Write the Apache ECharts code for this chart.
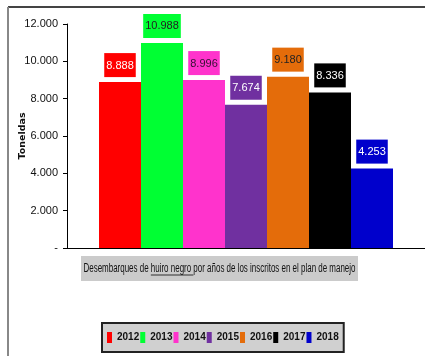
<!DOCTYPE html>
<html>
<head>
<meta charset="utf-8">
<script src="https://cdn.jsdelivr.net/npm/echarts@6/dist/echarts.min.js"></script>
<style>
html,body{margin:0;padding:0;background:#fff;}
#chart{width:425px;height:356px;}
</style>
</head>
<body>
<div id="chart"></div>
<script>
const years = ['2012','2013','2014','2015','2016','2017','2018'];
const values = [8888, 10988, 8996, 7674, 9180, 8336, 4253];
const colors = ['#ff0000','#00ff33','#ff33cc','#7030a0','#e46c0a','#000000','#0000cc'];
const labelColors = ['#ffffff','#222222','#331133','#ffffff','#222222','#ffffff','#ffffff'];
const yTicks = [0, 2000, 4000, 6000, 8000, 10000, 12000];
const yAxisTitle = 'Toneldas';
const captionBefore = 'Desembarques de ';
const captionUnderlined = 'huiro negro ';
const captionAfter = 'por años de los inscritos en el plan de manejo';

const FONT = "'Liberation Sans',Arial,sans-serif";

function fmt(v){
  if (v === 0) return '-';
  return String(v).replace(/\B(?=(\d{3})+(?!\d))/g, '.');
}

// caption measurement (for the underline under "huiro negro")
const mctx = document.createElement('canvas').getContext('2d');
const CAP_FS = 12;
mctx.font = CAP_FS + "px 'Liberation Sans',Arial,sans-serif";
const wBefore = mctx.measureText(captionBefore).width;
const wUnder = mctx.measureText(captionUnderlined).width;
const wTotal = mctx.measureText(captionBefore + captionUnderlined + captionAfter).width;
const capBoxX = 81, capBoxW = 277, capBoxY = 256, capBoxH = 25;
const capTargetW = 272;
const capScale = capTargetW / wTotal;
const capX0 = capBoxX + (capBoxW - capTargetW) / 2;

const chart = echarts.init(document.getElementById('chart'), null, {renderer:'canvas'});

const series = years.map((y, i) => ({
  name: y,
  type: 'bar',
  data: [values[i]],
  barWidth: 42,
  barGap: '0%',
  itemStyle: { color: colors[i] },
  label: {
    show: true,
    position: 'top',
    distance: 5,
    formatter: p => fmt(p.value),
    backgroundColor: colors[i],
    color: labelColors[i],
    padding: [7, 2, 6, 2],
    fontSize: 11,
    fontFamily: FONT
  }
}));

chart.setOption({
  animation: false,
  backgroundColor: '#ffffff',
  color: colors,
  grid: { left: 67, right: -3, top: 24, bottom: 108, containLabel: false },
  xAxis: {
    type: 'category',
    data: [''],
    axisLine: { show: true, lineStyle: { color: '#000', width: 1 } },
    axisTick: { show: false },
    axisLabel: { show: false }
  },
  yAxis: {
    type: 'value',
    min: yTicks[0],
    max: yTicks[yTicks.length - 1],
    interval: 2000,
    name: yAxisTitle,
    nameLocation: 'middle',
    nameGap: 39,
    nameRotate: 90,
    nameMoveOverlap: false,
    nameTextStyle: { fontFamily: "'DejaVu Sans',sans-serif", fontWeight: 'bold', fontSize: 9.5, color: '#111' },
    axisLine: { show: true, lineStyle: { color: '#000', width: 1 } },
    axisTick: { show: true, length: 4, lineStyle: { color: '#000' } },
    splitLine: { show: false },
    axisLabel: {
      margin: 9,
      formatter: v => fmt(v),
      fontFamily: FONT,
      fontSize: 11,
      color: '#111'
    }
  },
  legend: {
    data: years,
    left: 102,
    top: 323,
    orient: 'horizontal',
    backgroundColor: '#d0d0d0',
    borderColor: '#222',
    borderWidth: 2,
    padding: [9, 5, 9, 5],
    itemWidth: 5,
    itemHeight: 11,
    itemGap: 1,
    icon: 'rect',
    textStyle: { fontFamily: FONT, fontSize: 10, color: '#111', fontWeight: 'bold' },
    selectedMode: false
  },
  graphic: [
    { type: 'line', shape: { x1: 8, y1: 7, x2: 425, y2: 7 }, style: { stroke: '#444', lineWidth: 2 }, silent: true },
    { type: 'line', shape: { x1: 8, y1: 7, x2: 8, y2: 356 }, style: { stroke: '#888', lineWidth: 2 }, silent: true },
    { type: 'rect', shape: { x: capBoxX, y: capBoxY, width: capBoxW, height: capBoxH }, style: { fill: '#cbcbcb' }, silent: true },
    {
      type: 'group', x: capX0, y: capBoxY + capBoxH / 2, scaleX: capScale, scaleY: 1, silent: true,
      children: [
        { type: 'text', x: 0, y: 0, style: { text: captionBefore + captionUnderlined + captionAfter, fill: '#111', font: CAP_FS + "px 'Liberation Sans',Arial,sans-serif", align: 'left', verticalAlign: 'middle' } },
        { type: 'line', shape: { x1: wBefore, y1: 6.5, x2: wBefore + wUnder, y2: 6.5 }, style: { stroke: '#111', lineWidth: 1 } }
      ]
    }
  ],
  series: series
});
</script>
</body>
</html>
